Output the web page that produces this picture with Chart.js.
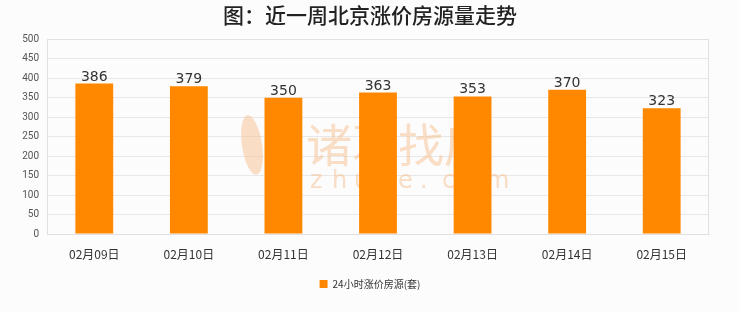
<!DOCTYPE html>
<html><head><meta charset="utf-8">
<script src="https://cdn.jsdelivr.net/npm/chart.js@4/dist/chart.umd.min.js"></script>
<style>html,body{margin:0;padding:0;background:#fcfcfc;}#wrap{width:740px;height:312px;}</style>
</head><body><div id="wrap"><canvas id="c" width="740" height="312"></canvas></div>
<script>
const categories = ["02月09日","02月10日","02月11日","02月12日","02月13日","02月14日","02月15日"];
const values = [386,379,350,363,353,370,323];
const yTicks = [0,50,100,150,200,250,300,350,400,450,500];
const seriesName = "24小时涨价房源(套)";
const titleText = "图：近一周北京涨价房源量走势";

const bg = {id:'bg',beforeDraw(c){const x=c.ctx;x.save();x.fillStyle='#fcfcfc';x.fillRect(0,0,c.width,c.height);x.restore();}};
const wm = {id:'wm',beforeDatasetsDraw(c){const x=c.ctx;x.save();x.fillStyle='rgba(245,190,140,0.5)';x.textBaseline='middle';
  x.font='46px "Noto Sans CJK SC"';x.textAlign='left';x.fillText('诸葛找房',306,145);
  x.font='24px "DejaVu Sans", sans-serif';const s='zhuge.com';let px=310;for(const ch of s){x.fillText(ch,px,182);px+=22;}
  x.beginPath();x.ellipse(252,145,10,30,-0.15,0,Math.PI*2);x.fill();
  x.restore();}};
const labels = {id:'lbl',afterDatasetsDraw(c){const x=c.ctx;const m=c.getDatasetMeta(0);x.save();x.font='14px "DejaVu Sans", sans-serif';x.fillStyle='#333';x.textAlign='center';x.textBaseline='alphabetic';m.data.forEach((b,i)=>{x.fillText(String(values[i]),b.x,b.y-3);});x.restore();}};
const frame = {id:'frame',afterDraw(c){const a=c.chartArea,x=c.ctx;x.save();x.strokeStyle='#e0e0e0';x.lineWidth=1;x.strokeRect(Math.round(a.left)+0.5,Math.round(a.top)+0.5,Math.round(a.right-a.left)-1,Math.round(a.bottom-a.top));x.restore();}};

new Chart(document.getElementById('c'),{
  type:'bar',
  data:{labels:categories,datasets:[{label:seriesName,data:values,backgroundColor:'#ff8800',borderWidth:0,categoryPercentage:1,barPercentage:0.4}]},
  options:{
    responsive:false,animation:false,
    layout:{padding:{left:0,right:0,top:0,bottom:13}},
    plugins:{
      title:{display:true,text:titleText,color:'#222',font:{family:'"Noto Sans CJK SC"',size:21,weight:'500'},padding:{top:2,bottom:12}},
      legend:{position:'bottom',labels:{boxWidth:8,boxHeight:8,color:'#333',font:{family:'"Noto Sans CJK SC"',size:10},padding:10}},
      tooltip:{enabled:false}
    },
    scales:{
      x:{grid:{display:false},border:{color:'#e0e0e0'},afterFit(s){s.height=35;},ticks:{color:'#333',font:{family:'"Noto Sans CJK SC"',size:12},maxRotation:0,padding:5}},
      y:{min:0,max:500,afterBuildTicks(s){s.ticks=yTicks.map(v=>({value:v}));},afterFit(s){s.width=47;},
         grid:{color:'#e8e8e8',drawTicks:false},border:{display:false},
         ticks:{color:'#555',font:{family:'Roboto, sans-serif',size:10},padding:8}},
      yR:{position:'right',min:0,max:500,afterFit(s){s.width=31;},grid:{display:false,drawOnChartArea:false},border:{display:false},ticks:{display:false}}
    }
  },
  plugins:[bg,wm,labels,frame]
});
</script></body></html>
